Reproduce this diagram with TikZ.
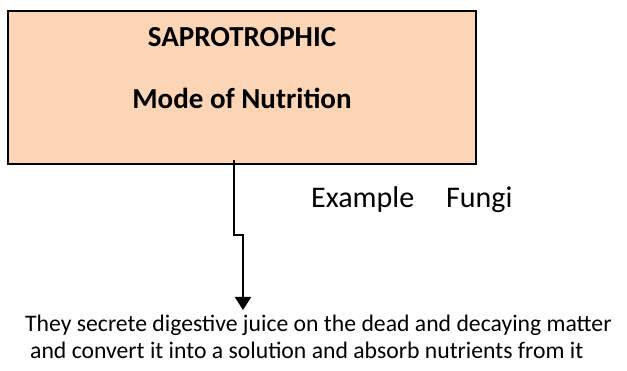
\documentclass[tikz,border=0pt]{standalone}
\usepackage{fontspec}
\setmainfont{Carlito}
\usetikzlibrary{arrows.meta,positioning}
\definecolor{peach}{HTML}{FBD5B5}

\begin{document}
\begin{tikzpicture}[
    x = 1pt, y = 1pt, % one unit is one pixel of the sketch
    flow/.style = {-{Triangle[length=13pt,width=16pt]}, line width=2pt}, % the arrow
    ]

    \tikzset{modebox/.style={
    draw = black,
    line width = 2pt,
    fill = peach,
    minimum width = 468pt,
    minimum height = 153pt
    }}
    \tikzset{heading/.style={font=\fontsize{29}{35}\selectfont\bfseries, inner sep=0pt}}
    \tikzset{example/.style={font=\fontsize{30}{36}\selectfont, inner sep=0pt}}
    \tikzset{juicetext/.style={font=\fontsize{23.7}{26.5}\selectfont, align=left, inner sep=0pt}}

    \useasboundingbox (0,0) rectangle (627,-371);

    \node[modebox] (mode) at (242,-87.5) {};
    \node[heading, anchor=base] (sapro) at ([yshift=-37pt]mode.north) {SAPROTROPHIC};
    \node[heading, anchor=base] (nutri) at ([yshift=-62pt]sapro.base) {Mode of Nutrition};

    \node[example, anchor=base west] (fungi) at (311,-208) {Example\hspace{32pt}Fungi};

    \node[juicetext, anchor=north west] (juice) at (25,-315)
    {They secrete digestive juice on the dead and decaying matter\\
    \hspace{5pt}and convert it into a solution and absorb nutrients from it};

    \coordinate (bend) at (243,-235);
    \draw[flow, shorten >=5pt] ([xshift=-8pt,yshift=5pt]mode.south) |- (bend) -- (bend |- juice.north);
\end{tikzpicture}
\end{document}
